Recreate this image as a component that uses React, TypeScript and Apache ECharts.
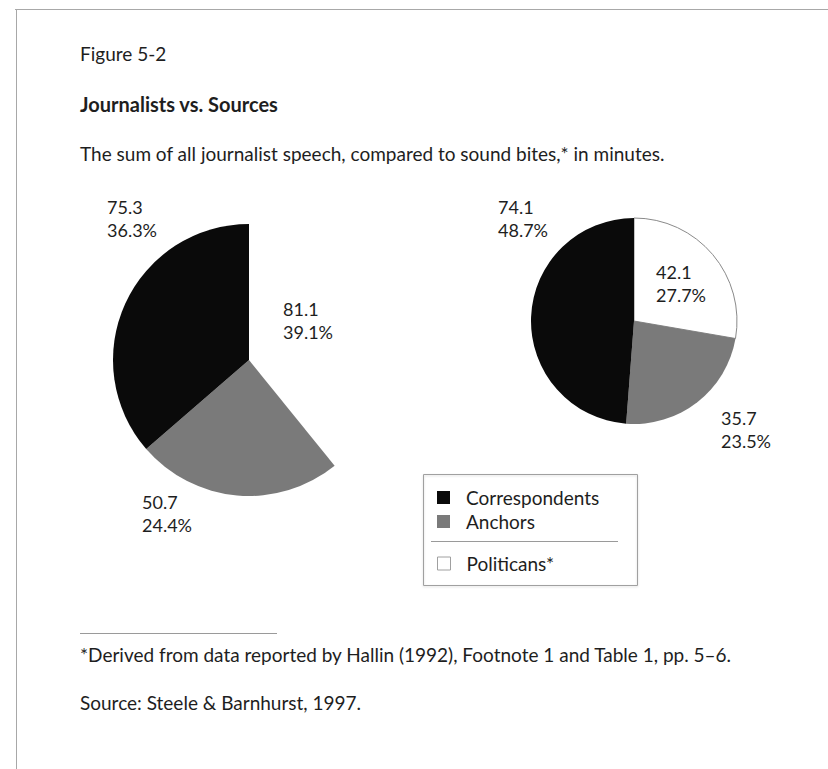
import React, { useEffect, useRef } from "react";
import * as echarts from "echarts";

// Minutes of speech per speaker group, two newscast samples
const categories = ["Politicans*", "Anchors", "Correspondents"];
const leftValues = [81.1, 50.7, 75.3];
const leftPercents = ["39.1%", "24.4%", "36.3%"];
const rightValues = [42.1, 35.7, 74.1];
const rightPercents = ["27.7%", "23.5%", "48.7%"];

const figureLabel = "Figure 5-2";
const titleText = "Journalists vs. Sources";
const subtitleText =
  "The sum of all journalist speech, compared to sound bites,* in minutes.";
const footnoteText =
  "*Derived from data reported by Hallin (1992), Footnote 1 and Table 1, pp. 5\u20136.";
const sourceText = "Source: Steele & Barnhurst, 1997.";

// Styling
const FONT = "Lato, 'Open Sans', sans-serif";
const INK = "#1e1e1e";
const sliceColors = ["#ffffff", "#7a7a7a", "#0a0a0a"];

// Label anchor points (top-left of each two-line label block)
const leftLabelPos: [number, number][] = [
  [283, 297],
  [142, 490],
  [107, 195],
];
const rightLabelPos: [number, number][] = [
  [656, 260],
  [721, 406],
  [498, 195],
];

function buildData(values: number[], outlineWhite: boolean) {
  return values.map((v, i) => ({
    name: categories[i],
    value: v,
    itemStyle: {
      color: sliceColors[i],
      borderWidth: outlineWhite && i === 0 ? 1 : 0,
      borderColor: "#8a8a8a",
    },
  }));
}

function pieSeries(
  values: number[],
  percents: string[],
  center: [number, number],
  radius: number,
  labelPos: [number, number][],
  outlineWhite: boolean
) {
  return {
    type: "pie",
    center,
    radius,
    startAngle: 90,
    clockwise: true,
    avoidLabelOverlap: false,
    emphasis: { disabled: true },
    itemStyle: { borderWidth: 0 },
    label: {
      show: true,
      position: "outside",
      color: INK,
      fontFamily: FONT,
      fontSize: 18,
      lineHeight: 23,
      formatter: (p: any) => `${values[p.dataIndex]}\n${percents[p.dataIndex]}`,
    },
    labelLine: { show: false },
    labelLayout: (p: any) => ({
      x: labelPos[p.dataIndex][0],
      y: labelPos[p.dataIndex][1],
      align: "left",
      verticalAlign: "top",
    }),
    data: buildData(values, outlineWhite),
  };
}

export default function App() {
  const ref = useRef<HTMLDivElement>(null);

  useEffect(() => {
    if (!ref.current) return;
    const chart = echarts.init(ref.current, null, { renderer: "svg" });

    const text = (x: number, y: number, t: string, size = 19, bold = false) => ({
      type: "text",
      x,
      y,
      style: {
        text: t,
        fill: INK,
        font: `${bold ? "bold " : ""}${size}px ${FONT}`,
        textVerticalAlign: "middle",
        textAlign: "left",
      },
    });

    const legendText = {
      color: INK,
      fontFamily: FONT,
      fontSize: 19,
      lineHeight: 18,
      padding: [0, 0, 0, 11],
    };

    chart.setOption({
      animation: false,
      backgroundColor: "#ffffff",
      legend: [
        {
          data: [categories[2], categories[1]],
          orient: "vertical",
          left: 437,
          top: 488,
          padding: 0,
          itemGap: 5,
          itemWidth: 13,
          itemHeight: 13,
          icon: "rect",
          selectedMode: false,
          textStyle: legendText,
        },
        {
          data: [categories[0]],
          orient: "vertical",
          left: 437,
          top: 554,
          padding: 0,
          itemWidth: 13,
          itemHeight: 13,
          icon: "rect",
          selectedMode: false,
          itemStyle: { borderColor: "#a0a0a0", borderWidth: 1 },
          textStyle: legendText,
        },
      ],
      series: [
        pieSeries(leftValues, leftPercents, [249, 360], 136, leftLabelPos, false),
        pieSeries(rightValues, rightPercents, [634, 321], 103, rightLabelPos, true),
      ],
      graphic: [
        // page frame
        {
          type: "line",
          shape: { x1: 15, y1: 9.5, x2: 828, y2: 9.5 },
          style: { stroke: "#a8a8a8", lineWidth: 1 },
        },
        {
          type: "line",
          shape: { x1: 16.5, y1: 9, x2: 16.5, y2: 769 },
          style: { stroke: "#a8a8a8", lineWidth: 1 },
        },
        text(80, 53, figureLabel),
        text(80, 104, titleText, 20, true),
        text(80, 153, subtitleText),
        // legend frame and divider
        {
          type: "rect",
          shape: { x: 423.5, y: 474.5, width: 214, height: 111 },
          style: {
            fill: "none",
            stroke: "#a0a0a0",
            lineWidth: 1,
            shadowBlur: 2,
            shadowColor: "rgba(0,0,0,0.15)",
            shadowOffsetY: 1,
          },
          z: -1,
        },
        {
          type: "line",
          shape: { x1: 431, y1: 541.5, x2: 618, y2: 541.5 },
          style: { stroke: "#9a9a9a", lineWidth: 1 },
        },
        // footnote rule and notes
        {
          type: "line",
          shape: { x1: 80, y1: 633.5, x2: 277, y2: 633.5 },
          style: { stroke: "#9a9a9a", lineWidth: 1 },
        },
        text(80, 654, footnoteText),
        text(80, 702, sourceText),
      ],
    });

    return () => chart.dispose();
  }, []);

  return (
    <div
      ref={ref}
      style={{
        position: "absolute",
        left: 0,
        top: 0,
        width: 828,
        height: 769,
        background: "#ffffff",
      }}
    />
  );
}
